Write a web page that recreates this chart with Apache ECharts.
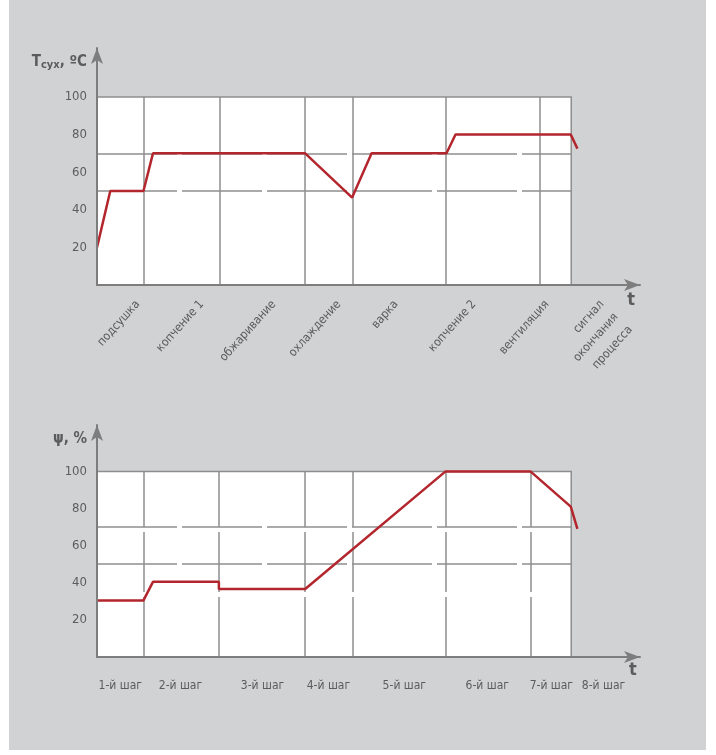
<!DOCTYPE html>
<html>
<head>
<meta charset="utf-8">
<script src="https://cdn.jsdelivr.net/npm/echarts@6/dist/echarts.min.js"></script>
<style>
  html, body { margin: 0; padding: 0; background: #ffffff; }
  #bg { position: absolute; left: 9px; top: 0; width: 697px; height: 750px; background: #d1d2d4; }
  #chart { position: absolute; left: 0; top: 0; width: 716px; height: 755px; }
</style>
</head>
<body>
<div id="bg"></div>
<div id="chart"></div>
<script>
// ---- data (time in relative units, process end = 100) ----
const tempTime  = [0, 2.8, 9.8, 11.8, 43.9, 53.8, 57.9, 73.7, 75.6, 99.9, 101.3];
const tempValue = [20, 50, 50, 70, 70, 46.5, 70, 70, 80, 80, 72.5];
const humTime   = [0, 9.8, 11.8, 25.7, 25.7, 43.9, 73.5, 91.4, 99.9, 101.3];
const humValue  = [30.5, 30.5, 40.5, 40.5, 36.6, 36.6, 100, 100, 81, 69];

const tempStageEdges = [9.8, 25.8, 43.8, 53.9, 73.5, 93.4];
const humStageEdges  = [9.8, 25.7, 43.8, 53.9, 73.5, 91.4];
const refLevels = [50, 70];
const processEnd = 100;
const yTicks = [20, 40, 60, 80, 100];

const stageLabels = ['подсушка', 'копчение 1', 'обжаривание', 'охлаждение', 'варка',
                     'копчение 2', 'вентиляция', 'сигнал\nокончания\nпроцесса'];
const stageLabelAt = [7.1, 20.6, 35.8, 49.5, 61.6, 78.0, 93.4, 105.0];
const stepLabels = ['1-й шаг', '2-й шаг', '3-й шаг', '4-й шаг', '5-й шаг', '6-й шаг', '7-й шаг', '8-й шаг'];
const stepLabelAt = [4.9, 17.6, 34.9, 48.8, 64.8, 82.3, 95.8, 106.8];

// ---- styling ----
const FONT = "'Liberation Sans Narrow','DejaVu Sans Condensed','Liberation Sans',sans-serif";
const TXT = '#5c5c5c';
const AX = '#7d7d7d';
const GRIDC = '#8e8e8e';
const RED = '#b3262d';

function pairs(xs, ys) { return xs.map((x, i) => [x, ys[i]]); }

function guideLines(edges, vDash) {
  const lines = [];
  refLevels.forEach(v => lines.push([{ coord: [0, v] }, { coord: [processEnd, v] }]));
  edges.forEach(x => lines.push([{ coord: [x, 0] }, { coord: [x, 100], lineStyle: { type: vDash } }]));
  return lines;
}

function xAxisCfg(gridIndex, values, labels, rotated) {
  return {
    type: 'value', gridIndex, min: 0, max: 114.5, z: 10,
    splitLine: { show: false }, axisTick: { show: false },
    axisLine: { show: true, symbol: ['none', 'arrow'], symbolSize: [9, 16],
                lineStyle: { color: AX, width: 2 } },
    name: 't', nameLocation: 'end', nameGap: -9,
    nameTextStyle: { fontFamily: FONT, fontSize: 18, fontWeight: 'bold', color: TXT,
                     align: 'center', verticalAlign: 'top', padding: rotated ? [6, 0, 0, 0] : [4, 0, 0, 0] },
    axisLabel: {
      customValues: values,
      formatter: v => { const i = values.indexOf(v); return i >= 0 ? labels[i] : ''; },
      rotate: rotated ? 48 : 0,
      align: rotated ? 'right' : 'center',
      verticalAlign: 'top',
      margin: rotated ? 11 : 19,
      fontFamily: FONT, fontSize: 12, color: TXT, lineHeight: 19
    }
  };
}

function yAxisCfg(gridIndex, max, name) {
  return {
    type: 'value', gridIndex, min: 0, max, z: 10,
    splitLine: { show: false }, axisTick: { show: false },
    axisLine: { show: true, symbol: ['none', 'arrow'], symbolSize: [9, 16],
                lineStyle: { color: AX, width: 2 } },
    axisLabel: { customValues: yTicks, margin: 10, fontFamily: FONT, fontSize: 13, color: TXT },
    name, nameLocation: 'end', nameGap: -14,
    nameTextStyle: { fontFamily: FONT, fontSize: 15, fontWeight: 'bold', color: TXT,
                     align: 'right', verticalAlign: 'middle', padding: [0, 10, 0, 0],
                     rich: { sub: { fontFamily: FONT, fontSize: 11, fontWeight: 'bold', color: TXT, verticalAlign: 'bottom', padding: [6, 0, 0, 0] } } }
  };
}

function seriesCfg(idx, data, edges, vDash) {
  return {
    type: 'line', xAxisIndex: idx, yAxisIndex: idx, data, symbol: 'none', z: 5,
    lineStyle: { color: RED, width: 2.5 },
    markArea: { silent: true, z: 1,
      itemStyle: { color: '#ffffff', borderColor: GRIDC, borderWidth: 1.5 },
      data: [[{ coord: [0, 0] }, { coord: [processEnd, 100] }]] },
    markLine: { silent: true, symbol: 'none', label: { show: false }, z: 2,
      lineStyle: { color: GRIDC, width: 1.5, type: [80, 5] },
      data: guideLines(edges, vDash) }
  };
}

const chart = echarts.init(document.getElementById('chart'), null, { renderer: 'canvas' });
chart.setOption({
  backgroundColor: 'transparent',
  animation: false,
  grid: [
    { left: 97, top: 48, width: 543, height: 237 },
    { left: 97, top: 425, width: 543, height: 232 }
  ],
  xAxis: [
    xAxisCfg(0, stageLabelAt, stageLabels, true),
    xAxisCfg(1, stepLabelAt, stepLabels, false)
  ],
  yAxis: [
    yAxisCfg(0, 126, 'T{sub|сух}, ºC'),
    yAxisCfg(1, 125, 'ψ, %')
  ],
  series: [
    seriesCfg(0, pairs(tempTime, tempValue), tempStageEdges, 'solid'),
    seriesCfg(1, pairs(humTime, humValue), humStageEdges, [60, 5])
  ]
});
</script>
</body>
</html>
